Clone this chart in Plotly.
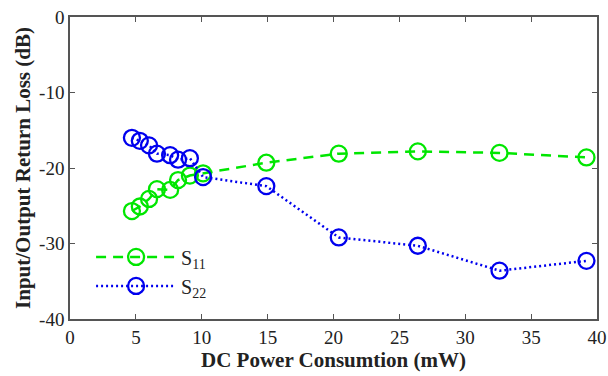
import plotly.graph_objects as go

power_mw = [4.7, 5.3, 6.0, 6.6, 7.6, 8.2, 9.1, 10.1, 14.9, 20.4, 26.4, 32.6, 39.2]
s11_db = [-25.7, -25.1, -24.1, -22.8, -22.9, -21.6, -21.0, -20.7, -19.3, -18.1, -17.8, -18.0, -18.6]
s22_db = [-16.0, -16.4, -17.0, -18.1, -18.3, -18.9, -18.7, -21.2, -22.4, -29.2, -30.3, -33.6, -32.3]

x_ticks = [0, 5, 10, 15, 20, 25, 30, 35, 40]
y_ticks = [0, -10, -20, -30, -40]
y_tick_text = ["0", "-10", "-20", "-30", "-40"]

font_family = "Times New Roman, serif"

fig = go.Figure()
fig.add_trace(go.Scatter(
    x=power_mw, y=s11_db, name="S<sub>11</sub>", mode="lines+markers",
    line=dict(color="#00e600", width=2.5, dash="10px,7px"),
    marker=dict(symbol="circle-open", size=16, color="#00e600", line=dict(width=2.3)),
))
fig.add_trace(go.Scatter(
    x=power_mw, y=s22_db, name="S<sub>22</sub>", mode="lines+markers",
    line=dict(color="#0000ee", width=2.5, dash="2px,3px"),
    marker=dict(symbol="circle-open", size=16, color="#0000ee", line=dict(width=2.3)),
))

axis_common = dict(
    showline=True, linecolor="#555555", linewidth=1.5, mirror="ticks",
    ticks="inside", ticklen=5, tickcolor="#555555", tickwidth=1,
    showgrid=False, zeroline=False, automargin=False,
    tickfont=dict(family=font_family, size=19, color="#222222"),
)

fig.update_layout(
    width=608, height=376,
    margin=dict(l=70, r=11, t=17, b=57),
    paper_bgcolor="white", plot_bgcolor="white",
    font=dict(family=font_family, color="#222222"),
    xaxis=dict(range=[0, 40], tickvals=x_ticks,
               title=dict(text="<b>DC Power Consumtion (mW)</b>", font=dict(family=font_family, size=21), standoff=2),
               **axis_common),
    yaxis=dict(range=[-40, 0], tickvals=y_ticks, ticktext=y_tick_text,
               title=dict(text="<b>Input/Output Return Loss (dB)</b>", font=dict(family=font_family, size=21), standoff=3),
               **axis_common),
    legend=dict(x=0.04, y=0.27, xanchor="left", yanchor="top", bgcolor="rgba(0,0,0,0)",
                font=dict(family=font_family, size=20, color="#222222"),
                itemwidth=80, tracegroupgap=6),
    showlegend=True,
)

fig.write_html("out.html")
